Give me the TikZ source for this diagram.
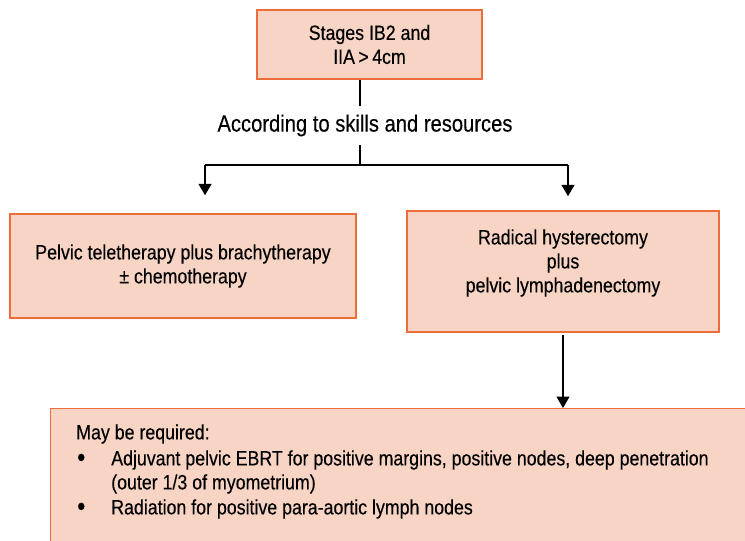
\documentclass[tikz,border=0pt]{standalone}
\usepackage{fontspec}
\setmainfont{Liberation Sans}[FakeStretch=0.86,FakeBold=0.3]
\usetikzlibrary{arrows.meta}
\definecolor{boxfill}{RGB}{248,212,196}
\definecolor{boxline}{RGB}{236,108,58}
\tikzset{
  stagebox/.style={draw=boxline, fill=boxfill, line width=1.1pt, align=center,
    inner sep=0pt, font=\fontsize{15.5}{18}\selectfont},
  txt/.style={inner sep=0pt, font=\fontsize{15.5}{18}\selectfont},
  dot/.style={inner sep=0pt, font=\fontsize{20}{20}\selectfont},
  flow/.style={line width=1.4pt},
  flowarrow/.style={flow, -{Triangle[width=9.5pt,length=8.5pt]}},
}
\begin{document}
\begin{tikzpicture}[x=0.75pt,y=-0.75pt]
            \useasboundingbox (0,0) rectangle (745,540);
            \clip (0,0) rectangle (745,540);

            % Stage box at the top
            \node[stagebox, minimum width=168.75pt, minimum height=51.75pt] (stage) at (369.5,44.5) {Stages IB2 and\\IIA\,>\,4cm};

            % Decision text
            \node[txt, font=\fontsize{17.6}{20}\selectfont, minimum height=29pt] (choice) at (365,125.5) {According to skills and resources};

            % Split points of the two branches
            \coordinate (split) at (360,165);
            \coordinate (splitL) at (205,165);
            \coordinate (splitR) at (568,165);

            % Left branch box
            \node[stagebox, minimum width=259.5pt, minimum height=78pt] (radio) at (183,266) {Pelvic teletherapy plus brachytherapy\\± chemotherapy};

            % Right branch box
            \node[stagebox, minimum width=234pt, minimum height=90.75pt] (surgery) at (563,271.5) {};
            \node[txt, align=center] (surgerytext) at (563,263) {Radical hysterectomy\\plus\\pelvic lymphadenectomy};

            % Bottom box, runs off the page
            \node[stagebox, anchor=north west, minimum width=545pt, minimum height=120pt] (adjuvant) at (50,408) {};
            \node[txt, anchor=west] (may) at (76,434) {May be required:};
            \node[dot, anchor=west] (bulletA) at (77,460) {•};
            \node[txt, anchor=west] (itemA) at (111,460) {Adjuvant pelvic EBRT for positive margins, positive nodes, deep penetration};
            \node[txt, anchor=west] (itemAcont) at (111,484) {(outer 1/3 of myometrium)};
            \node[dot, anchor=west] (bulletB) at (77,509) {•};
            \node[txt, anchor=west] (itemB) at (111,509) {Radiation for positive para-aortic lymph nodes};

            % Connectors
            \draw[flow] (stage.south -| split) -- (choice.north -| split);
            \draw[flow] (choice.south -| split) -- (split);
            \draw[flow] (splitL) -- (splitR);
            \draw[flowarrow, shorten >=13.5pt] (splitL) -- (splitL |- radio.north);
            \draw[flowarrow, shorten >=10.5pt] (splitR) -- (splitR |- surgery.north);
            \draw[flowarrow, shorten <=2pt] (surgery.south) -- (adjuvant.north -| surgery.south);
\end{tikzpicture}
\end{document}
